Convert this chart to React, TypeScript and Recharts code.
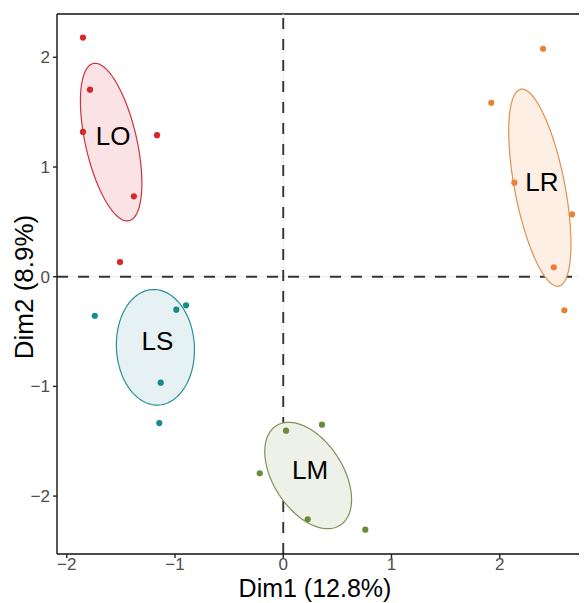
import React from 'react';
import { ScatterChart, Scatter, XAxis, YAxis, ReferenceLine } from 'recharts';

// ---- data ----
const groupNames = ['LO', 'LR', 'LS', 'LM'];
const loDim1 = [-1.85, -1.785, -1.85, -1.166, -1.38, -1.508];
const loDim2 = [2.18, 1.705, 1.32, 1.29, 0.733, 0.134];
const lrDim1 = [2.4, 1.922, 2.135, 2.668, 2.499, 2.597];
const lrDim2 = [2.078, 1.586, 0.857, 0.569, 0.086, -0.306];
const lsDim1 = [-1.741, -0.988, -0.898, -1.132, -1.145];
const lsDim2 = [-0.356, -0.301, -0.261, -0.966, -1.334];
const lmDim1 = [0.026, -0.217, 0.358, 0.226, 0.758];
const lmDim2 = [-1.404, -1.792, -1.349, -2.211, -2.306];
const xTicks = [-2, -1, 0, 1, 2];
const yTicks = [-2, -1, 0, 1, 2];
const xDomain = [-2.09, 2.806];
const yDomain = [-2.528, 2.395];
const xTitle = 'Dim1 (12.8%)';
const yTitle = 'Dim2 (8.9%)';

// ---- styles ----
const FONT = '"Liberation Sans", Arial, Helvetica, sans-serif';
const styles: Record<string, { point: string; stroke: string; fill: string }> = {
  LO: { point: '#d9262c', stroke: '#c9353d', fill: '#fbe3e5' },
  LR: { point: '#e8813a', stroke: '#e0904f', fill: '#fdefe4' },
  LS: { point: '#178a8a', stroke: '#2a9095', fill: '#e5f1f3' },
  LM: { point: '#6c8a3c', stroke: '#7d9256', fill: '#eef1e7' },
};

const CHI2_95_2DF = 5.991;

const groups = [
  { name: groupNames[0], xs: loDim1, ys: loDim2 },
  { name: groupNames[1], xs: lrDim1, ys: lrDim2 },
  { name: groupNames[2], xs: lsDim1, ys: lsDim2 },
  { name: groupNames[3], xs: lmDim1, ys: lmDim2 },
];

const mean = (a: number[]) => a.reduce((s, v) => s + v, 0) / a.length;

// 95% confidence ellipse of the group mean, derived from the group's points
function confidenceEllipse(xs: number[], ys: number[], steps = 120) {
  const n = xs.length;
  const mx = mean(xs);
  const my = mean(ys);
  let sxx = 0, syy = 0, sxy = 0;
  for (let i = 0; i < n; i++) {
    const dx = xs[i] - mx;
    const dy = ys[i] - my;
    sxx += dx * dx;
    syy += dy * dy;
    sxy += dx * dy;
  }
  sxx /= n - 1;
  syy /= n - 1;
  sxy /= n - 1;
  const r = Math.sqrt(CHI2_95_2DF / n);
  const l11 = Math.sqrt(sxx);
  const l21 = sxy / l11;
  const l22 = Math.sqrt(Math.max(syy - l21 * l21, 0));
  const pts: { x: number; y: number }[] = [];
  for (let k = 0; k <= steps; k++) {
    const t = (2 * Math.PI * k) / steps;
    const u = Math.cos(t);
    const v = Math.sin(t);
    pts.push({ x: mx + r * l11 * u, y: my + r * (l21 * u + l22 * v) });
  }
  return pts;
}

const fmt = (v: number) => (v < 0 ? '\u2212' + Math.abs(v) : String(v));

const XTick = (p: any) => (
  <text x={p.x} y={p.y} dy="0.71em" textAnchor="middle" fontSize={17} fill="#4d4d4d" fontFamily={FONT}>
    {fmt(p.payload.value)}
  </text>
);

const YTick = (p: any) => (
  <text x={p.x} y={p.y} dy="0.355em" textAnchor="end" fontSize={17} fill="#4d4d4d" fontFamily={FONT}>
    {fmt(p.payload.value)}
  </text>
);

const XTitle = (p: any) => {
  const vb = p.viewBox || { x: 57, y: 554, width: 530, height: 49 };
  return (
    <text x={vb.x + vb.width / 2 - 7} y={vb.y + vb.height - 6} textAnchor="middle" fontSize={25} fill="#000" fontFamily={FONT}>
      {xTitle}
    </text>
  );
};

const YTitle = (p: any) => {
  const vb = p.viewBox || { x: 8, y: 14, width: 49, height: 540 };
  const cx = vb.x + 25;
  const cy = vb.y + vb.height / 2 + 3;
  return (
    <text x={cx} y={cy} transform={`rotate(-90, ${cx}, ${cy})`} textAnchor="middle" fontSize={26} fill="#000" fontFamily={FONT}>
      {yTitle}
    </text>
  );
};

const HiddenShape = () => <g />;

export default function App() {
  const ellipses = groups.map((g) => ({ name: g.name, data: confidenceEllipse(g.xs, g.ys) }));
  const pointSets = groups.map((g) => ({ name: g.name, data: g.xs.map((x, i) => ({ x, y: g.ys[i] })) }));
  const centroids = groups.map((g) => ({ x: mean(g.xs), y: mean(g.ys), label: g.name }));

  return (
    <ScatterChart width={579} height={595} margin={{ top: 6, right: 0, bottom: 0, left: 0 }}>
      <XAxis
        type="number"
        dataKey="x"
        domain={xDomain}
        ticks={xTicks}
        allowDataOverflow
        axisLine={{ stroke: '#111', strokeWidth: 1.4 }}
        tickLine={{ stroke: '#222', strokeWidth: 1.4 }}
        tickSize={4}
        tickMargin={0}
        tick={<XTick />}
        height={49}
        label={XTitle}
      />
      <YAxis
        type="number"
        dataKey="y"
        domain={yDomain}
        ticks={yTicks}
        allowDataOverflow
        axisLine={{ stroke: '#111', strokeWidth: 1.4 }}
        tickLine={{ stroke: '#222', strokeWidth: 1.4 }}
        tickSize={4}
        tickMargin={3}
        tick={<YTick />}
        width={49}
        label={YTitle}
      />
      {ellipses.map((e) => (
        <Scatter
          key={'ell-' + e.name}
          data={e.data}
          isAnimationActive={false}
          shape={HiddenShape}
          line={{ stroke: styles[e.name].stroke, strokeWidth: 1.2, fill: styles[e.name].fill }}
          lineJointType="linear"
          legendType="none"
        />
      ))}
      <ReferenceLine y={yDomain[1]} stroke="#111" strokeWidth={1.4} />
      <ReferenceLine x={0} stroke="#ebebeb" strokeWidth={1} />
      <ReferenceLine y={0} stroke="#ebebeb" strokeWidth={1} />
      <ReferenceLine x={0} stroke="#333" strokeWidth={1.9} strokeDasharray="11 10" />
      <ReferenceLine y={0} stroke="#333" strokeWidth={1.9} strokeDasharray="11 10" />
      {pointSets.map((s) => (
        <Scatter
          key={'pts-' + s.name}
          data={s.data}
          isAnimationActive={false}
          fill={styles[s.name].point}
          shape={(p: any) => <circle cx={p.cx} cy={p.cy} r={3.1} fill={styles[s.name].point} />}
        />
      ))}
      <Scatter
        data={centroids}
        isAnimationActive={false}
        shape={(p: any) => (
          <text x={p.cx + 2} y={p.cy + 3} textAnchor="middle" fontSize={26} fill="#000" fontFamily={FONT}>
            {p.payload.label}
          </text>
        )}
      />
    </ScatterChart>
  );
}
